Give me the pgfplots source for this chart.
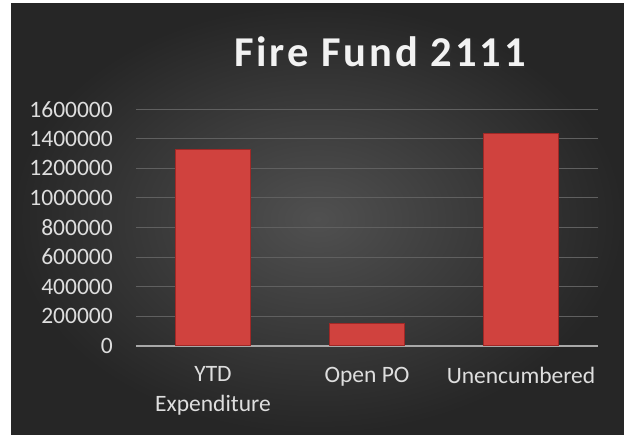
\documentclass[border=0pt]{standalone}
\usepackage{pgfplots}
\pgfplotsset{compat=1.18}
\usepackage{fontspec}
\setmainfont{Carlito}
\definecolor{bgin}{RGB}{80,80,80}
\definecolor{bgout}{RGB}{38,38,38}
\definecolor{barred}{RGB}{208,66,62}
\definecolor{bardark}{RGB}{160,40,38}
\definecolor{gridc}{RGB}{96,96,96}
\definecolor{axc}{RGB}{168,168,168}
\definecolor{tickc}{RGB}{222,222,222}
\begin{document}
\begin{tikzpicture}[x=1pt,y=1pt]
\useasboundingbox (0,0) rectangle (624,434);
\fill[white] (0,0) rectangle (624,434);
\shade[inner color=bgin, outer color=bgout] (11,0) rectangle (624,430);
\node[anchor=base, text=black!80, opacity=0.6, font=\fontsize{42.5}{48}\selectfont\bfseries\addfontfeature{LetterSpace=7}] at (381.5,365.8) {Fire Fund 2111};
\node[anchor=base, text={rgb,255:red,242;green,242;blue,242}, font=\fontsize{42.5}{48}\selectfont\bfseries\addfontfeature{LetterSpace=7}] at (380,367.3) {Fire Fund 2111};
\begin{axis}[
  at={(136pt,88.3pt)}, anchor=south west,
  scale only axis, width=462pt, height=236.4pt,
  xmin=-0.5, xmax=2.5, ymin=0, ymax=1600000,
  axis x line*=bottom, axis y line*=left,
  x axis line style={draw=axc, line width=2pt, -},
  y axis line style={draw=none},
  scaled y ticks=false,
  ytick={0,200000,400000,600000,800000,1000000,1200000,1400000,1600000},
  yticklabels={0,200000,400000,600000,800000,1000000,1200000,1400000,1600000},
  xtick={0,1,2},
  xticklabels={{YTD\\Expenditure},{Open PO},{Unencumbered}},
  major tick length=0pt,
  ymajorgrids, grid style={draw=gridc, line width=1pt},
  yticklabel style={anchor=east, inner sep=0pt, xshift=-23pt, text=tickc, font=\fontsize{23.5}{29.4}\selectfont},
  xticklabel style={anchor=north, inner sep=0pt, yshift=-21pt, align=center, text=tickc, font=\fontsize{23.5}{29.4}\selectfont},
  clip=false,
]
\addplot[ybar, bar width=75pt, bar shift=0pt, fill=barred, draw=bardark, line width=1pt] coordinates {(0,1325000) (1,151000) (2,1437000)};
\end{axis}
\end{tikzpicture}
\end{document}
